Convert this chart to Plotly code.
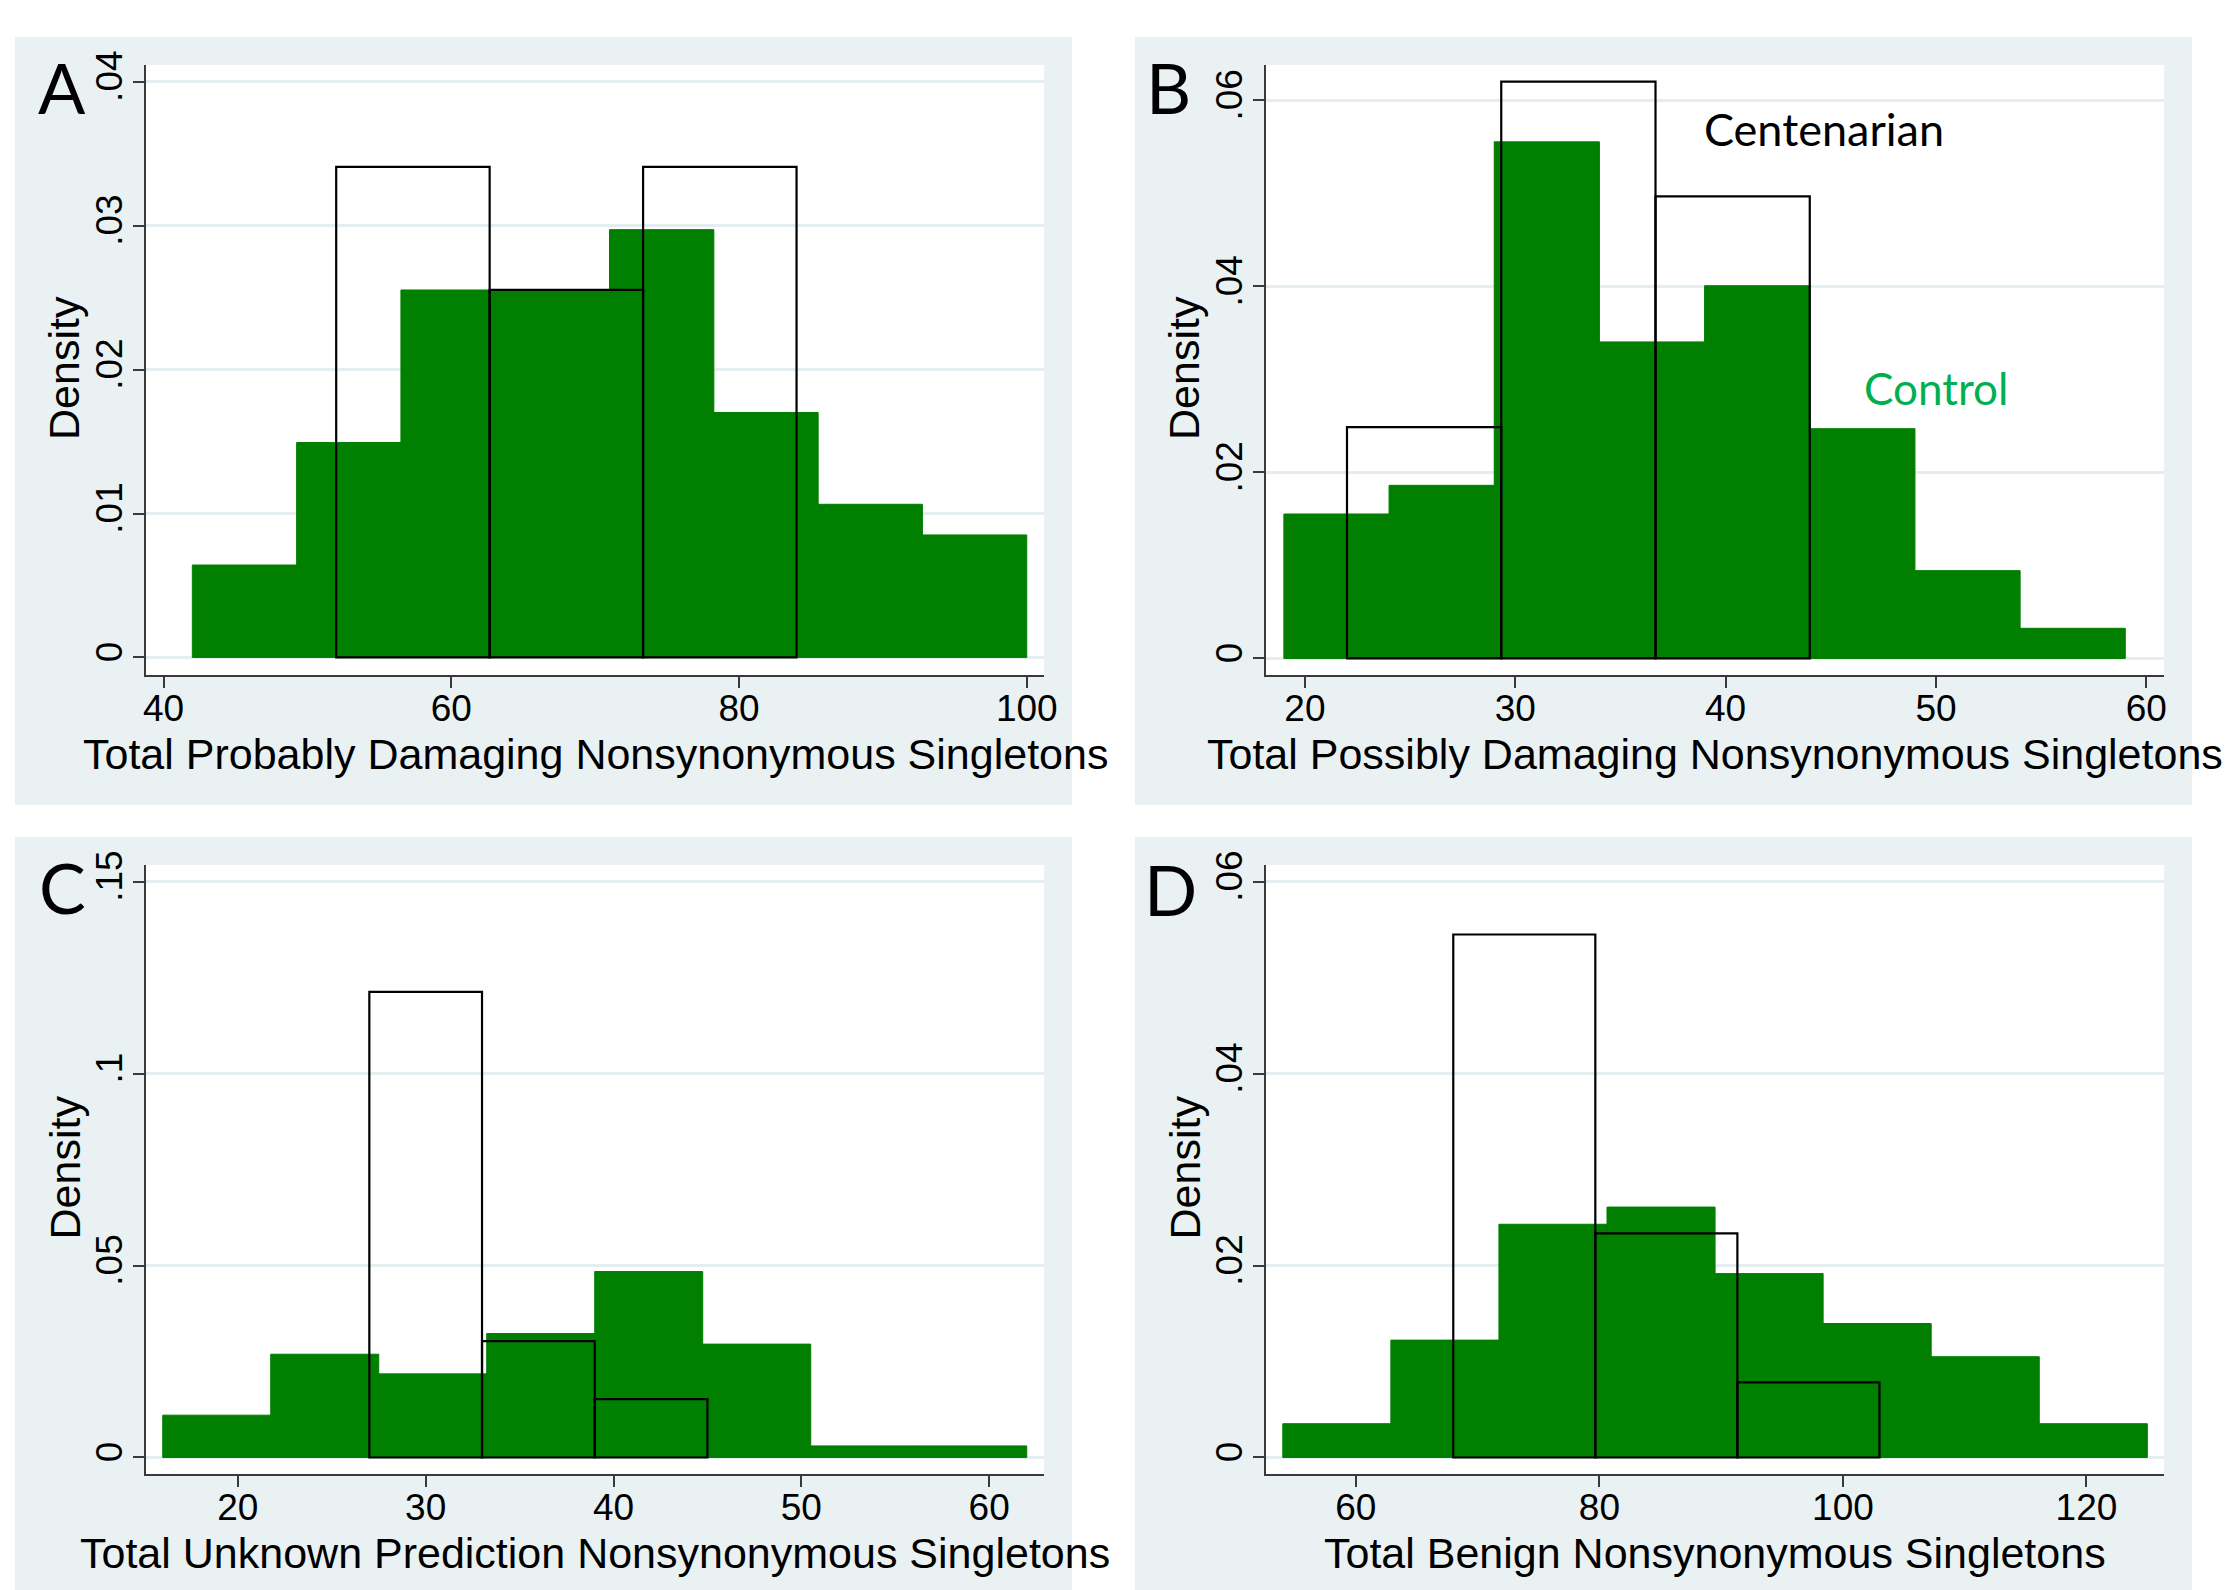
import plotly.graph_objects as go

# page size and the default 8px body margin of the written page
PAGE_W, PAGE_H = 2231, 1590
OFF = 8
W, H = PAGE_W - OFF, PAGE_H - OFF

# ---------------- data ----------------
# Panel A
a_ctrl_edges = [42, 49.25, 56.5, 63.75, 71, 78.25, 85.5, 92.75, 100]
a_ctrl_dens = [0.00642, 0.01493, 0.02553, 0.02553, 0.02972, 0.01702, 0.01064, 0.00851]
a_cent_edges = [52, 62.667, 73.333, 84]
a_cent_dens = [0.03408, 0.02553, 0.03408]
a_xticks = [40, 60, 80, 100]
a_yticks = [0, 0.01, 0.02, 0.03, 0.04]
a_yticktext = ["0", ".01", ".02", ".03", ".04"]
a_title = "Total Probably Damaging Nonsynonymous Singletons"

# Panel B
b_ctrl_edges = [19, 24, 29, 34, 39, 44, 49, 54, 59]
b_ctrl_dens = [0.01553, 0.01861, 0.05554, 0.03403, 0.04007, 0.0247, 0.00944, 0.00324]
b_cent_edges = [22, 29.333, 36.667, 44]
b_cent_dens = [0.02486, 0.06202, 0.04967]
b_xticks = [20, 30, 40, 50, 60]
b_yticks = [0, 0.02, 0.04, 0.06]
b_yticktext = ["0", ".02", ".04", ".06"]
b_title = "Total Possibly Damaging Nonsynonymous Singletons"

# Panel C
c_ctrl_edges = [16, 21.75, 27.5, 33.25, 39, 44.75, 50.5, 56.25, 62]
c_ctrl_dens = [0.01102, 0.0269, 0.02178, 0.03228, 0.04843, 0.02953, 0.00302, 0.00302]
c_cent_edges = [27, 33, 39, 45]
c_cent_dens = [0.12126, 0.03031, 0.01522]
c_xticks = [20, 30, 40, 50, 60]
c_yticks = [0, 0.05, 0.1, 0.15]
c_yticktext = ["0", ".05", ".1", ".15"]
c_title = "Total Unknown Prediction Nonsynonymous Singletons"

# Panel D
d_ctrl_edges = [54, 62.875, 71.75, 80.625, 89.5, 98.375, 107.25, 116.125, 125]
d_ctrl_dens = [0.00352, 0.01223, 0.0243, 0.02609, 0.01916, 0.01396, 0.0105, 0.00352]
d_cent_edges = [68, 79.667, 91.333, 103]
d_cent_dens = [0.05449, 0.02336, 0.00782]
d_xticks = [60, 80, 100, 120]
d_yticks = [0, 0.02, 0.04, 0.06]
d_yticktext = ["0", ".02", ".04", ".06"]
d_title = "Total Benign Nonsynonymous Singletons"

panel_letters = ["A", "B", "C", "D"]
y_title = "Density"
label_cent = "Centenarian"
label_ctrl = "Control"

# ---------------- layout geometry (page pixels) ----------------
panels = [
    dict(ce=a_ctrl_edges, cd=a_ctrl_dens, ne=a_cent_edges, nd=a_cent_dens, xt=a_xticks,
         yt=a_yticks, ytt=a_yticktext, title=a_title, letter_xy=(62, 87),
         bg=(15, 37, 1072, 805), plot=(146, 65, 1044, 675),
         xr=[38.78, 101.2], yr=[-0.00122, 0.04116]),
    dict(ce=b_ctrl_edges, cd=b_ctrl_dens, ne=b_cent_edges, nd=b_cent_dens, xt=b_xticks,
         yt=b_yticks, ytt=b_yticktext, title=b_title, letter_xy=(1168, 87),
         bg=(1135, 37, 2192, 805), plot=(1266, 65, 2164, 675),
         xr=[18.15, 60.84], yr=[-0.00178, 0.0638]),
    dict(ce=c_ctrl_edges, cd=c_ctrl_dens, ne=c_cent_edges, nd=c_cent_dens, xt=c_xticks,
         yt=c_yticks, ytt=c_yticktext, title=c_title, letter_xy=(62, 887),
         bg=(15, 837, 1072, 1590), plot=(146, 865, 1044, 1474),
         xr=[15.11, 62.92], yr=[-0.0043, 0.15432]),
    dict(ce=d_ctrl_edges, cd=d_ctrl_dens, ne=d_cent_edges, nd=d_cent_dens, xt=d_xticks,
         yt=d_yticks, ytt=d_yticktext, title=d_title, letter_xy=(1170, 889),
         bg=(1135, 837, 2192, 1590), plot=(1266, 865, 2164, 1474),
         xr=[52.62, 126.37], yr=[-0.00172, 0.06173]),
]

GREEN = "#007f00"
BG = "#eaf1f3"
GRID = "#e4eef0"
AXC = "#3a3a3a"
ARIAL = "Liberation Sans, Arial, sans-serif"
TICKFONT = dict(family=ARIAL, size=37, color="black")
TITLEFONT = dict(family=ARIAL, size=43, color="black")
CALFONT = "Lato, Open Sans, sans-serif"


def px_x(v):
    return (v - OFF) / W


def px_y(v):
    return 1 - (v - OFF) / H


def bins(edges):
    centers = [(edges[i] + edges[i + 1]) / 2 for i in range(len(edges) - 1)]
    widths = [edges[i + 1] - edges[i] for i in range(len(edges) - 1)]
    return centers, widths


fig = go.Figure()
shapes = []
annotations = []
layout_axes = {}

for i, p in enumerate(panels):
    n = "" if i == 0 else str(i + 1)
    xa, ya = "x" + n, "y" + n
    cc, cw = bins(p["ce"])
    nc, nw = bins(p["ne"])
    fig.add_trace(go.Bar(x=cc, y=p["cd"], width=cw, xaxis=xa, yaxis=ya,
                         marker=dict(color=GREEN, line=dict(color=GREEN, width=1)),
                         name="Control", showlegend=False, hoverinfo="skip"))
    fig.add_trace(go.Bar(x=nc, y=p["nd"], width=nw, xaxis=xa, yaxis=ya,
                         marker=dict(color="rgba(0,0,0,0)", line=dict(color="black", width=2.2)),
                         name="Centenarian", showlegend=False, hoverinfo="skip"))

    bx0, by0, bx1, by1 = p["bg"]
    shapes.append(dict(type="rect", xref="paper", yref="paper", layer="below",
                       x0=px_x(bx0), x1=px_x(bx1), y0=px_y(by1), y1=px_y(by0),
                       fillcolor=BG, line=dict(width=0)))
    px0, py0, px1, py1 = p["plot"]
    shapes.append(dict(type="rect", xref="paper", yref="paper", layer="below",
                       x0=px_x(px0), x1=px_x(px1), y0=px_y(py1), y1=px_y(py0),
                       fillcolor="white", line=dict(width=0)))

    layout_axes["xaxis" + n] = dict(
        domain=[px_x(px0), px_x(px1)], range=p["xr"], anchor=ya,
        tickvals=p["xt"], ticktext=[str(t) for t in p["xt"]],
        showgrid=False, zeroline=False, showline=True, linecolor=AXC, linewidth=2,
        ticks="outside", ticklen=11, tickwidth=2, tickcolor=AXC, tickfont=TICKFONT,
        ticklabelstandoff=-11, fixedrange=True)
    layout_axes["yaxis" + n] = dict(
        domain=[px_y(py1), px_y(py0)], range=p["yr"], anchor=xa,
        tickvals=p["yt"], ticktext=p["ytt"], tickangle=-90,
        showgrid=True, gridcolor=GRID, gridwidth=3, zeroline=False,
        showline=True, linecolor=AXC, linewidth=2,
        ticks="outside", ticklen=11, tickwidth=2, tickcolor=AXC, tickfont=TICKFONT,
        ticklabelstandoff=-4, fixedrange=True)

    # axis titles
    annotations.append(dict(text=p["title"], xref="paper", yref="paper",
                            x=px_x((px0 + px1) / 2), y=px_y(py1 + 79),
                            xanchor="center", yanchor="middle", showarrow=False,
                            font=TITLEFONT))
    annotations.append(dict(text=y_title, xref="paper", yref="paper", textangle=-90,
                            x=px_x(bx0 + 49), y=px_y((py0 + py1) / 2 - 2),
                            xanchor="center", yanchor="middle", showarrow=False,
                            font=TITLEFONT))
    # panel letter
    lx, ly = p["letter_xy"]
    annotations.append(dict(text=panel_letters[i], xref="paper", yref="paper",
                            x=px_x(lx), y=px_y(ly), xanchor="center", yanchor="middle",
                            showarrow=False, font=dict(family=CALFONT, size=70, color="black")))

# Legend-like labels in panel B
annotations.append(dict(text=label_cent, xref="x2", yref="y2", x=44.68, y=0.0569,
                        xanchor="center", yanchor="middle", showarrow=False,
                        font=dict(family=CALFONT, size=45, color="black")))
annotations.append(dict(text=label_ctrl, xref="x2", yref="y2", x=50.0, y=0.0291,
                        xanchor="center", yanchor="middle", showarrow=False,
                        font=dict(family=CALFONT, size=44, color="#00b050")))

fig.update_layout(
    width=W, height=H, margin=dict(l=0, r=0, t=0, b=0, autoexpand=False),
    paper_bgcolor="white", plot_bgcolor="rgba(0,0,0,0)",
    barmode="overlay", showlegend=False, hovermode=False,
    shapes=shapes, annotations=annotations, **layout_axes)

fig.write_html("out.html")
